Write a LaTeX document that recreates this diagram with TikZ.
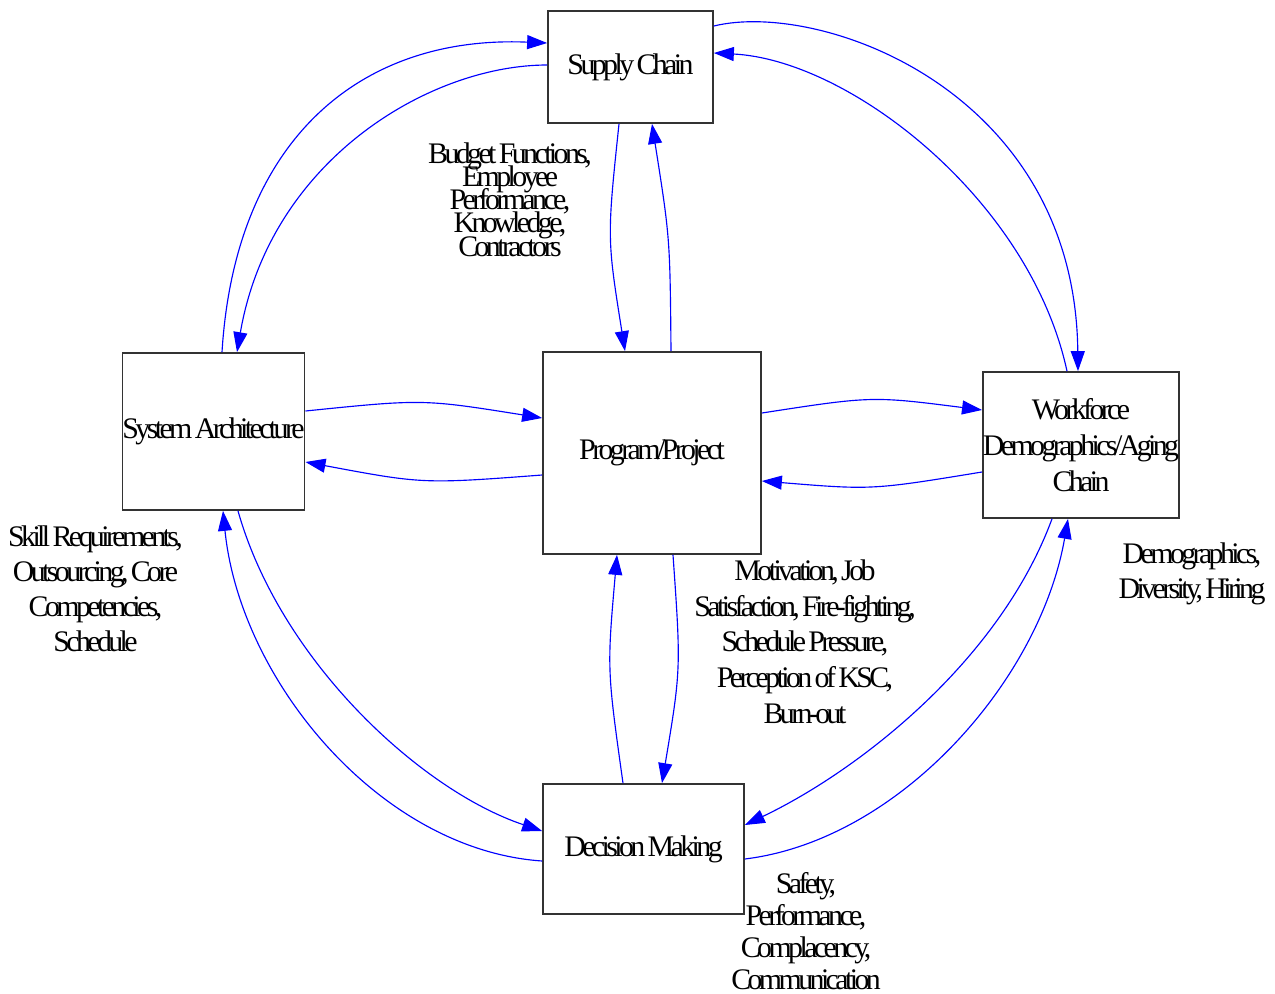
\documentclass[tikz,border=0pt]{standalone}
\usepackage{fontspec}
\setmainfont{Liberation Serif}[LetterSpace=-12,WordSpace=0.6]
\usetikzlibrary{arrows.meta,calc}
\newcommand\tightskip{\lineskiplimit=-20pt\relax}
\tikzset{
  box/.style={draw=black!80,line width=1pt,inner sep=0pt,align=center,font=\fontsize{17}{20.5}\selectfont},
  edge/.style={draw=blue,line width=0.65pt,-{Triangle[length=0.4cm,width=0.28cm]}},
  lbl/.style={inner sep=0pt,align=center}
}
\begin{document}
\begin{tikzpicture}[x=0.02cm,y=-0.02cm]
\useasboundingbox (0,0) rectangle (1275,994);
% boxes
\foreach \nm/\x/\y/\w/\h/\txt in {sc/630.5/67/3.3/2.24/{Supply Chain},pp/652/453/4.36/4.04/{Program/Project},sa/213.5/431.5/3.58/3.14/{System Architecture},wf/1081/445/3.88/2.92/{Workforce\\Demographics/Aging\\Chain},dm/643.5/849/4.02/2.6/{Decision Making}}{ \node[box,minimum width=\w cm,minimum height=\h cm] (\nm) at (\x,\y){\txt};}

% short links
\foreach \a/\ax/\ay/\b/\bx/\by/\cx/\cy in {sc.south/-11.5/0/pp.north/-27/0/607/238,pp.north/19/0/sc.south/21.5/0/670/238,sa.east/0/-20.5/pp.west/0/-35/423/399,pp.west/0/22/sa.east/0/30.5/423/484,pp.east/0/-40/wf.west/0/-35/872/396,wf.west/0/27/pp.east/0/28/872/490,pp.south/21/0/dm.north/18.5/0/681/669,dm.north/-20.5/0/pp.south/-35/0/607/669}{ \draw[edge] ($(\a)+(\ax,\ay)$) .. controls (\cx,\cy) .. ($(\b)+(\bx,\by)$);}

% long arcs
\foreach \a/\ax/\ay/\b/\bx/\by/\px/\py/\qx/\qy in {sa.north/8.5/0/sc.west/0/-24/235/140/360/35,sc.west/0/-2/sa.north/23.5/0/430/65/270/160,sc.east/0/-41/wf.north/-3/0/820/0/1075/90,wf.north/-14/0/sc.east/0/-14/1030/200/850/60,sa.south/24.5/0/dm.west/0/-18/280/660/420/790,dm.west/0/12/sa.south/9.5/0/380/850/240/680,wf.south/-29/0/dm.east/0/-24/1000/660/860/770,dm.east/0/10/wf.south/-13/0/900/840/1040/680}{ \draw[edge] ($(\a)+(\ax,\ay)$) .. controls (\px,\py) and (\qx,\qy) .. ($(\b)+(\bx,\by)$);}

\node[lbl,font=\fontsize{17}{13.2}\selectfont\tightskip] (budget) at (510,199.5){Budget Functions,\\Employee\\Performance,\\Knowledge,\\Contractors};
\node[lbl,font=\fontsize{17}{19.9}\selectfont] (skill) at (95.5,589){Skill Requirements,\\Outsourcing, Core\\Competencies,\\Schedule};
\node[lbl,font=\fontsize{17}{20.3}\selectfont] (motiv) at (805,641.5){Motivation, Job\\Satisfaction, Fire-fighting,\\Schedule Pressure,\\Perception of KSC,\\Burn-out};
\node[lbl,font=\fontsize{17}{19.9}\selectfont] (demog) at (1192,573.5){Demographics,\\Diversity, Hiring};
\node[lbl,font=\fontsize{17}{18.2}\selectfont] (safety) at (806,930.75){Safety,\\Performance,\\Complacency,\\Communication};
\end{tikzpicture}
\end{document}
